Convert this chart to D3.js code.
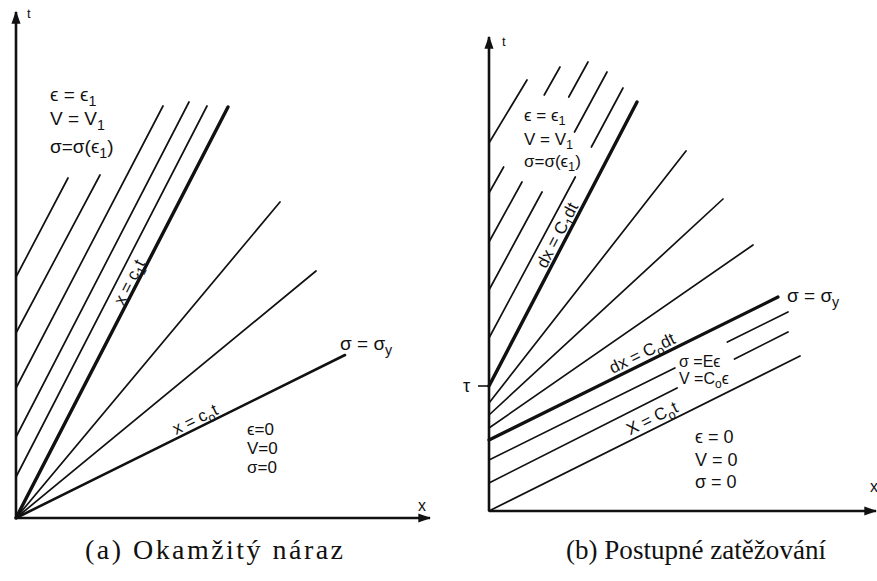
<!DOCTYPE html>
<html><head><meta charset="utf-8">
<script src="https://cdn.jsdelivr.net/npm/d3@7"></script>
<style>
html,body{margin:0;padding:0;background:#fff;}
svg{display:block;}
.lbl{font-family:"Liberation Sans","DejaVu Sans",sans-serif;fill:#111;}
.cap{font-family:"Liberation Serif","DejaVu Serif",serif;fill:#111;}
</style></head>
<body><svg id="c" width="877" height="581"></svg>
<script>
// ---------------- DATA (offsets from each panel origin; x to the right, t upward) --------------
// Panel (a): instantaneous impact
const aAxisX = [0, 414];
const aAxisT = [0, 506];
const aFanEndX = [212, 264, 300, 329];     // rays from origin (first = x=c1t, last = x=c0t)
const aFanEndT = [411, 316, 247, 163];
const aParStartT = [241, 185, 130, 81, 41]; // C1 characteristics leaving the t axis
const aParEndX = [52, 84, 147, 173, 191];
const aParEndT = [340, 343, 412, 416, 412];

// Panel (b): gradual loading
const bAxisX = [0, 388];
const bAxisT = [0, 474];
const bTau = 125;
const bParStartT = [368, 318, 269, 221, 173];
const bParEndX = [38, 71, 99, 118, 134];
const bParEndT = [431, 444, 449, 439, 423];
const bParGaps = [[], [[344, 416]], [[329, 414]], [[319, 379]], [[334, 364]]];
const bC1 = [0, 125, 148, 409];             // dx = C1 dt  (x0,t0,x1,t1)
const bFanStartT = [108, 96, 83];
const bFanEndX = [197, 234, 264];
const bFanEndT = [360, 312, 266];
const bC0 = [0, 71, 289, 214];              // dx = C0 dt
const bLowStartT = [51, 28];
const bLowEndX = [299, 299];
const bLowEndT = [199, 179];
const bLowGaps = [[[143, 169]], [[123, 152]]];
const bX0 = [0, 0, 311, 155];               // X = C0 t

const captions = ["(a) Okamžitý náraz", "(b) Postupné zatěžování"];

// ---------------- DRAWING ----------------
const svg = d3.select("#c");
svg.append("rect").attr("width", 877).attr("height", 581).attr("fill", "#fff");
const defs = svg.append("defs");
defs.append("marker").attr("id", "arr").attr("viewBox", "0 0 10 10")
  .attr("refX", 9).attr("refY", 5).attr("markerWidth", 5).attr("markerHeight", 5)
  .attr("markerUnits", "strokeWidth").attr("orient", "auto")
  .append("path").attr("d", "M0,1.5 L10,5 L0,8.5 Z").attr("fill", "#111");

const INK = "#111";
const xa = d3.scaleLinear().domain([0, 414]).range([16, 430]);
const ta = d3.scaleLinear().domain([0, 508]).range([518, 10]);
const xb = d3.scaleLinear().domain([0, 388]).range([489, 877]);
const tb = d3.scaleLinear().domain([0, 474]).range([511, 37]);

function seg(g, xs, ts, x0, t0, x1, t1, w, gaps) {
  let pieces = [[t0, t1]];
  (gaps || []).forEach(([lo, hi]) => {
    const np = [];
    pieces.forEach(([a, b]) => {
      if (hi <= a || lo >= b) { np.push([a, b]); return; }
      if (lo > a) np.push([a, lo]);
      if (hi < b) np.push([hi, b]);
    });
    pieces = np;
  });
  const xAt = t => x0 + (x1 - x0) * (t - t0) / (t1 - t0);
  pieces.forEach(([a, b]) => {
    g.append("line")
      .attr("x1", xs(xAt(a))).attr("y1", ts(a))
      .attr("x2", xs(xAt(b))).attr("y2", ts(b))
      .attr("stroke", INK).attr("stroke-width", w).attr("stroke-linecap", "round");
  });
}

function rich(g, x, y, parts, size, rot) {
  const t = g.append("text").attr("class", "lbl").attr("x", x).attr("y", y)
    .attr("font-size", size);
  if (rot !== undefined) t.attr("transform", `rotate(${rot},${x},${y})`).attr("text-anchor", "middle").attr("dy", "0.35em");
  let sub = false;
  parts.forEach(p => {
    const isSub = Array.isArray(p);
    const txt = isSub ? p[0] : p;
    const ts = t.append("tspan").text(txt);
    if (isSub && !sub) { ts.attr("font-size", size * 0.75).attr("dy", size * 0.26); sub = true; }
    else if (!isSub && sub) { ts.attr("dy", -size * 0.26); sub = false; }
  });
  return t;
}
function angleOf(xs, ts, x0, t0, x1, t1) {
  return Math.atan2(ts(t1) - ts(t0), xs(x1) - xs(x0)) * 180 / Math.PI;
}

// ---- Panel A ----
const ga = svg.append("g");
ga.append("line").attr("x1", xa(0)).attr("y1", ta(0)).attr("x2", xa(0)).attr("y2", ta(aAxisT[1]))
  .attr("stroke", INK).attr("stroke-width", 2.6).attr("marker-end", "url(#arr)");
ga.append("line").attr("x1", xa(0)).attr("y1", ta(0)).attr("x2", xa(aAxisX[1])).attr("y2", ta(0))
  .attr("stroke", INK).attr("stroke-width", 2.6).attr("marker-end", "url(#arr)");
aFanEndX.forEach((x, i) => seg(ga, xa, ta, 0, 0, x, aFanEndT[i], i === 0 ? 3.4 : (i === 3 ? 2.6 : 1.7)));
aParStartT.forEach((t0, i) => seg(ga, xa, ta, 0, t0, aParEndX[i], aParEndT[i], 1.7));

rich(ga, 27, 18, ["t"], 13);
rich(ga, 418, 511, ["x"], 16);
rich(ga, 50, 101, ["ϵ = ϵ", ["1"]], 19);
rich(ga, 50, 125, ["V = V", ["1"]], 19);
rich(ga, 50, 153, ["σ=σ(ϵ", ["1"], ")"], 19);
rich(ga, 247, 435, ["ϵ=0"], 17);
rich(ga, 247, 454, ["V=0"], 17);
rich(ga, 247, 473, ["σ=0"], 17);
rich(ga, 340, 350, ["σ = σ", ["y"]], 19);
const a1 = angleOf(xa, ta, 0, 0, aFanEndX[0], aFanEndT[0]);
rich(ga, xa(113), ta(236), ["x = c", ["1"], "t"], 17, a1);
const a0 = angleOf(xa, ta, 0, 0, aFanEndX[3], aFanEndT[3]);
rich(ga, xa(179), ta(99), ["x = c", ["o"], "t"], 17, a0);

// ---- Panel B ----
const gb = svg.append("g");
gb.append("line").attr("x1", xb(0)).attr("y1", tb(0)).attr("x2", xb(0)).attr("y2", tb(bAxisT[1]))
  .attr("stroke", INK).attr("stroke-width", 2.6).attr("marker-end", "url(#arr)");
gb.append("line").attr("x1", xb(0)).attr("y1", tb(0)).attr("x2", xb(bAxisX[1]) - 1).attr("y2", tb(0))
  .attr("stroke", INK).attr("stroke-width", 2.6).attr("marker-end", "url(#arr)");
gb.append("line").attr("x1", xb(0) - 11).attr("y1", tb(bTau)).attr("x2", xb(0)).attr("y2", tb(bTau))
  .attr("stroke", INK).attr("stroke-width", 1.6);
bParStartT.forEach((t0, i) => seg(gb, xb, tb, 0, t0, bParEndX[i], bParEndT[i], 1.7, bParGaps[i]));
seg(gb, xb, tb, bC1[0], bC1[1], bC1[2], bC1[3], 3.4);
bFanStartT.forEach((t0, i) => seg(gb, xb, tb, 0, t0, bFanEndX[i], bFanEndT[i], 1.7));
seg(gb, xb, tb, bC0[0], bC0[1], bC0[2], bC0[3], 3.2);
bLowStartT.forEach((t0, i) => seg(gb, xb, tb, 0, t0, bLowEndX[i], bLowEndT[i], 1.7, bLowGaps[i]));
seg(gb, xb, tb, bX0[0], bX0[1], bX0[2], bX0[3], 1.7);

rich(gb, 502, 46, ["t"], 13);
rich(gb, 870, 492, ["x"], 16);
rich(gb, 463, 392, ["τ"], 18);
rich(gb, 524, 121, ["ϵ = ϵ", ["1"]], 17);
rich(gb, 524, 145, ["V = V", ["1"]], 17);
rich(gb, 524, 167, ["σ=σ(ϵ", ["1"], ")"], 17);
rich(gb, 695, 443, ["ϵ = 0"], 18);
rich(gb, 695, 466, ["V = 0"], 18);
rich(gb, 695, 488, ["σ = 0"], 18);
rich(gb, 787, 302, ["σ = σ", ["y"]], 19);
rich(gb, 679, 367, ["σ =Eϵ"], 16);
rich(gb, 679, 384, ["V =C", ["o"], "ϵ"], 16);
const b1 = angleOf(xb, tb, bC1[0], bC1[1], bC1[2], bC1[3]);
rich(gb, xb(68), tb(276), ["dx = C", ["1"], "dt"], 17, b1);
const b0 = angleOf(xb, tb, bC0[0], bC0[1], bC0[2], bC0[3]);
rich(gb, xb(153), tb(158), ["dx = C", ["o"], "dt"], 17, b0);
const bx = angleOf(xb, tb, bX0[0], bX0[1], bX0[2], bX0[3]);
rich(gb, xb(163), tb(93), ["X = C", ["o"], "t"], 17, bx);

// ---- Captions ----
svg.append("text").attr("class", "cap").attr("x", 85).attr("y", 559).attr("font-size", 28)
  .attr("textLength", 258).attr("lengthAdjust", "spacing").text(captions[0]);
svg.append("text").attr("class", "cap").attr("x", 566).attr("y", 559).attr("font-size", 27)
  .attr("textLength", 260).attr("lengthAdjust", "spacingAndGlyphs").text(captions[1]);
</script></body></html>
